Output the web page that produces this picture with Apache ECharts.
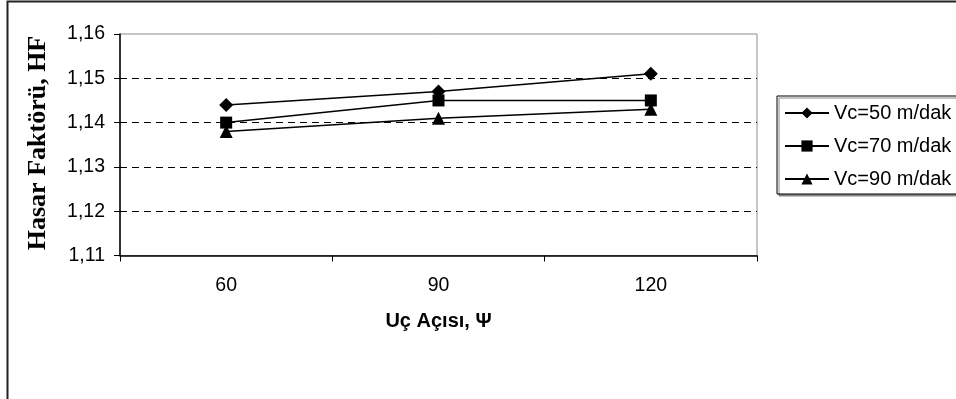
<!DOCTYPE html>
<html>
<head>
<meta charset="utf-8">
<script src="https://cdn.jsdelivr.net/npm/echarts@6/dist/echarts.min.js"></script>
<style>
  html, body { margin: 0; padding: 0; background: #fff; }
  #chart { width: 956px; height: 399px; }
</style>
</head>
<body>
<div id="chart"></div>
<script>
// Tool tip angle categories and damage factor per cutting speed
const angles = ['60', '90', '120'];
const vc50 = [1.144, 1.147, 1.151];
const vc70 = [1.140, 1.145, 1.145];
const vc90 = [1.138, 1.141, 1.143];
const seriesNames = ['Vc=50 m/dak', 'Vc=70 m/dak', 'Vc=90 m/dak'];
const yMin = 1.11, yMax = 1.16, yStep = 0.01;

const chart = echarts.init(document.getElementById('chart'), null, { renderer: 'canvas' });

const sans = '"Liberation Sans", Arial, sans-serif';
const serif = '"Liberation Serif", "Times New Roman", serif';

function lineSeries(name, data, symbol, size) {
  return {
    name: name,
    type: 'line',
    data: data,
    symbol: symbol,
    symbolSize: size,
    showSymbol: true,
    lineStyle: { color: '#000', width: 1.5 },
    itemStyle: { color: '#000' },
    emphasis: { disabled: true },
    animation: false
  };
}

chart.setOption({
  animation: false,
  backgroundColor: '#fff',
  graphic: [
    {
      type: 'rect',
      shape: { x: 7.5, y: 1.5, width: 1000, height: 500 },
      style: { fill: 'none', stroke: '#222', lineWidth: 2 },
      silent: true, z: -1
    },
    {
      type: 'text',
      x: 38, y: 143,
      rotation: Math.PI / 2,
      style: {
        text: 'Hasar Faktörü, HF',
        font: 'bold 26px ' + serif,
        fill: '#000',
        textAlign: 'center',
        textVerticalAlign: 'middle'
      }
    }
  ],
  grid: {
    left: 120, top: 34, width: 637, height: 221.5,
    show: true, borderColor: '#8c8c8c', borderWidth: 1, backgroundColor: '#fff'
  },
  legend: {
    orient: 'vertical',
    left: 777, top: 96,
    padding: [7, 12, 5, 7],
    itemGap: 13,
    itemWidth: 44,
    itemHeight: 14,
    backgroundColor: '#fff',
    borderColor: '#000',
    borderWidth: 1,
    shadowColor: '#888',
    shadowBlur: 0,
    shadowOffsetX: 2,
    shadowOffsetY: 2,
    textStyle: { fontFamily: sans, fontSize: 20, color: '#000' },
    data: seriesNames
  },
  xAxis: {
    type: 'category',
    data: angles,
    boundaryGap: true,
    name: 'Uç Açısı, Ψ',
    nameLocation: 'middle',
    nameGap: 56,
    nameTextStyle: { fontFamily: sans, fontSize: 20, fontWeight: 'bold', color: '#000' },
    axisLine: { lineStyle: { color: '#000', width: 1.5 } },
    axisTick: { show: true, length: 6, inside: false, lineStyle: { color: '#000' } },
    axisLabel: { fontFamily: sans, fontSize: 19.5, color: '#000', margin: 20 },
    splitLine: { show: false }
  },
  yAxis: {
    type: 'value',
    min: yMin, max: yMax, interval: yStep,
    axisLine: { show: true, lineStyle: { color: '#000', width: 1.5 } },
    axisTick: { show: true, length: 6, inside: false, lineStyle: { color: '#000' } },
    axisLabel: {
      fontFamily: sans, fontSize: 19.5, color: '#000', margin: 15,
      formatter: v => v.toFixed(2).replace('.', ',')
    },
    splitLine: {
      show: true,
      showMinLine: false,
      showMaxLine: false,
      lineStyle: { color: '#000', type: [7, 5], width: 1 }
    }
  },
  series: [
    lineSeries(seriesNames[0], vc50, 'diamond', 14),
    lineSeries(seriesNames[1], vc70, 'rect', 12),
    lineSeries(seriesNames[2], vc90, 'triangle', 13)
  ]
});
</script>
</body>
</html>
